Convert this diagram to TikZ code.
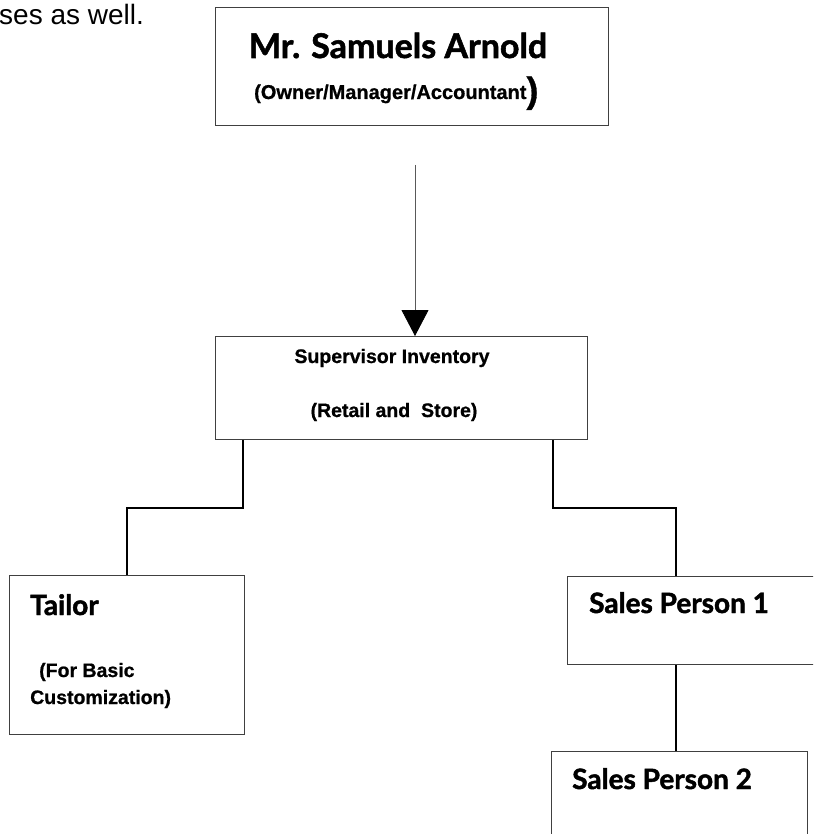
\documentclass[tikz,border=0pt]{standalone}
\usepackage{fontspec}
\setmainfont{Liberation Sans}
\newfontfamily\lato[FakeBold=1.6]{Lato}
\newfontfamily\arialb[FakeBold=0.8]{Liberation Sans}
\usetikzlibrary{arrows.meta}

\begin{document}
\begin{tikzpicture}[x=1pt,y=-1pt,>=Stealth,
    box/.style={draw=black!75,line width=1pt,rectangle,inner sep=0pt,anchor=north west},
    link/.style={line width=2.4pt},
    title/.style={font=\lato\bfseries\fontsize{28}{28}\selectfont,inner sep=0pt},
    small/.style={font=\arialb\bfseries\fontsize{19.5}{19.5}\selectfont,inner sep=0pt}]
    \useasboundingbox (0,0) rectangle (813,834);
    \fill[white] (0,0) rectangle (813,834);
    \clip (0,0) rectangle (813,834);
    % boxes
    \node[box,minimum width=393pt,minimum height=118pt] (boss) at (215,7) {};
    \node[box,minimum width=372pt,minimum height=103pt] (sup) at (215,336) {};
    \node[box,minimum width=235pt,minimum height=159pt] (tailor) at (9,575) {};
    \node[box,minimum width=300pt,minimum height=88pt] (sp1) at (567,576) {};
    \node[box,minimum width=256pt,minimum height=120pt] (sp2) at (551,751) {};
    % texts
    \node[anchor=base west,inner sep=0pt,font=\fontsize{28}{28}\selectfont] (intro) at (-1,25) {ses as well.};
    \node[title,anchor=base,font=\lato\bfseries\fontsize{34}{34}\selectfont] (bossname) at (398,58) {Mr. Samuels Arnold};
    \node[small,anchor=base west,font=\arialb\bfseries\fontsize{20}{20}\selectfont] (bossrole) at (254,99) {(Owner/Manager/Accountant\raisebox{-3.5pt}{\fontsize{36}{36}\selectfont)}};
    \node[small,anchor=base] (supname) at (392,363) {Supervisor Inventory};
    \node[small,anchor=base] (suprole) at (394,417) {(Retail and\ \ Store)};
    \node[title,anchor=base west] (tailorname) at (30,615) {Tailor};
    \node[small,anchor=base west] (tailorrole) at (39,677) {(For Basic};
    \node[small,anchor=base west] (tailorrole2) at (30,704) {Customization)};
    \node[title,anchor=base west] (sp1name) at (589,613) {Sales Person 1};
    \node[title,anchor=base west] (sp2name) at (572,789) {Sales Person 2};
    % connectors
    \coordinate (arrowtop) at (415,165);
    \draw[line width=0.8pt,black!65,-{Triangle[width=27pt,length=26pt,color=black]}] (arrowtop) -- ([xshift=200]sup.north west);
    \draw[link] ([xshift=28]sup.south west) -- ++(0,68) -| (tailor.north);
    \draw[link] ([xshift=-35]sup.south east) -- ++(0,68) -| ([xshift=109]sp1.north west);
    \draw[link] ([xshift=109]sp1.south west) -- ([xshift=109]sp1.south west |- sp2.north);
\end{tikzpicture}
\end{document}
